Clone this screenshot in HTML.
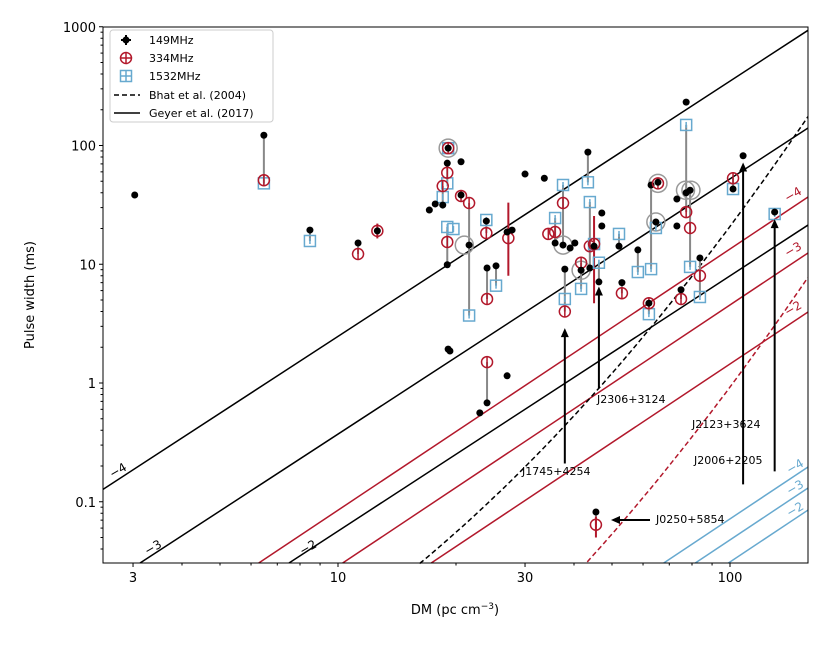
<!DOCTYPE html>
<html><head><meta charset="utf-8"><style>
html,body{margin:0;padding:0;background:#fff;overflow:hidden;width:830px;height:649px;}
svg{display:block;font-family:"DejaVu Sans","Liberation Sans",sans-serif;overflow:hidden;}
</style></head><body>
<svg id="chart" width="830" height="649" viewBox="0 0 830 649" xmlns="http://www.w3.org/2000/svg">
<g id="grid"></g>
<g id="lines"></g>
<g id="conn"></g>
<g id="pts"></g>
<g id="ann"></g>
<rect x="103" y="27" width="705" height="536" fill="none" stroke="#000" stroke-width="1"/>
<g id="axes"></g>
<g>
<rect x="110" y="30" width="163" height="92" rx="3" fill="#fff" fill-opacity="0.85" stroke="#ccc"/>
<g><circle cx="126" cy="40" r="3.5" fill="#000"/><line x1="126" y1="35" x2="126" y2="45" stroke="#000" stroke-width="2"/><line x1="121" y1="40" x2="131" y2="40" stroke="#000" stroke-width="2"/><text x="149" y="44" font-size="11">149MHz</text></g>
<g><circle cx="126" cy="58" r="5.5" fill="none" stroke="#b2182b" stroke-width="1.5"/><line x1="126" y1="52" x2="126" y2="64" stroke="#b2182b" stroke-width="1.5"/><line x1="120" y1="58" x2="132" y2="58" stroke="#b2182b" stroke-width="1.5"/><text x="149" y="62" font-size="11">334MHz</text></g>
<g><rect x="120.5" y="70.5" width="11" height="11" fill="none" stroke="#67a9cf" stroke-width="1.5"/><line x1="126" y1="70" x2="126" y2="82" stroke="#67a9cf" stroke-width="1.5"/><line x1="120" y1="76" x2="132" y2="76" stroke="#67a9cf" stroke-width="1.5"/><text x="149" y="80" font-size="11">1532MHz</text></g>
<g><line x1="114" y1="95" x2="140" y2="95" stroke="#000" stroke-width="1.5" stroke-dasharray="5,3"/><text x="149" y="99" font-size="11">Bhat et al. (2004)</text></g>
<g><line x1="114" y1="113" x2="140" y2="113" stroke="#000" stroke-width="1.5"/><text x="149" y="117" font-size="11">Geyer et al. (2017)</text></g>
</g>
<text x="455" y="614" font-size="13" text-anchor="middle">DM (pc cm<tspan dy="-5" font-size="9">−3</tspan><tspan dy="5">)</tspan></text>
<text transform="translate(34,295) rotate(-90)" font-size="13" text-anchor="middle">Pulse width (ms)</text>
</svg>
<script>
const NS="http://www.w3.org/2000/svg";
// ---- data ----
const pulsarDM=[3.03,6.47,8.48,11.25,12.6,19.1,19.0,18.5,17.1,17.7,19.0,19.1,19.3,19.7,21.6,20.6,20.6,23.9,24.0,25.3,27.2,27.0,27.8,30.0,33.6,37.5,35.8,34.4,39.1,40.2,37.9,41.7,43.4,43.9,45.0,46.3,47.1,47.1,52.1,53.0,58.2,62.9,62.1,65.5,64.7,77.3,77.3,79.1,73.2,73.2,75.0,83.8,101.8,108,130,45.5,24.0,23.0,27.0];
const w149=[38.3,122,19.4,15.1,19.1,95,71,31.5,28.6,32.2,9.9,1.93,1.86,null,14.5,73,38.3,23.1,9.3,9.7,null,18.7,19.4,57.5,53,14.5,15.1,null,13.7,15.1,9.1,8.9,88,9.3,14.2,7.1,27,21,14.2,7.0,13.2,46.5,4.7,49,22.7,40,232,42,35.4,21,6.1,11.3,43,82,27.5,0.082,0.68,0.56,1.15];
const w334=[null,51,null,12.2,19.1,95,59,45.6,null,null,15.4,null,null,null,32.8,null,37.6,18.3,5.1,null,16.6,null,null,null,null,32.8,18.7,18,null,null,4.0,10.3,null,14.2,14.8,null,null,null,null,5.7,null,null,4.7,48,null,27.5,null,20.2,null,null,5.1,8.0,53,null,null,0.064,1.50,null,null];
const w1532=[null,48,15.7,null,null,95,48,36.8,null,null,20.6,null,null,19.8,3.7,null,null,23.6,null,6.6,null,null,null,null,null,46.5,24.5,null,null,null,5.1,6.2,49,33.4,14.8,10.3,null,null,18,null,8.6,9.1,3.8,null,20.2,149,null,9.5,null,null,null,5.3,43,null,26.5,null,null,null,null];
const circleDM=[19.1,21.0,37.5,41.7,65.5,64.7,77.0,79.5];
const circleW=[95,14.5,14.5,8.9,48,22.7,42,42];
const redErrDM=[27.2,45.0,12.6,45.5];
const redErrLo=[8.0,4.7,16.5,0.05];
const redErrHi=[33,25.5,22,0.075];
const geyerFreq=["149","149","149","334","334","334","1532","1532","1532"];
const geyerLabel=["−4","−3","−2","−4","−3","−2","−4","−3","−2"];
const geyerLogW=[2.97,2.147,1.33,1.566,1.095,0.598,-0.707,-0.884,-1.07];
const geyerSlope=[2.15,2.15,2.15,2.2,2.2,2.2,2.2,2.2,2.2];
const bhatFreqGHz=[0.149,0.334];
const arrowNames=["J2306+3124","J1745+4254","J2123+3624","J2006+2205"];
const arrowDM=[46.3,37.9,108,130];
const arrowFrom=[0.9,0.21,0.14,0.18];
const arrowTo=[6.5,2.9,72,24];
// ---- axes ----
const X0=103,X1=808,Y0=27,Y1=563;
const xs=d=>338+(Math.log10(d)-1)*392;
const ys=w=>383-Math.log10(w)*118.75;
const colors={"149":"#000","334":"#b2182b","1532":"#67a9cf"};
function el(tag,attrs,parent){const e=document.createElementNS(NS,tag);for(const k in attrs)e.setAttribute(k,attrs[k]);parent.appendChild(e);return e;}
const lines=document.getElementById('lines'),conn=document.getElementById('conn'),pts=document.getElementById('pts'),ann=document.getElementById('ann'),axes=document.getElementById('axes');
const xMajor=[3,10,30,100];
for(let dec=1;dec<=100;dec*=10){for(let m=1;m<10;m++){const v=m*dec;if(v<2.6||v>158)continue;const x=xs(v);const major=xMajor.includes(v);
const t=el('line',{x1:x,y1:Y1,x2:x,y2:Y1+(major?4:2.5),stroke:'#000','stroke-width':1},axes);

if(major){const tx=el('text',{x:x,y:Y1+19,'font-size':13,'text-anchor':'middle'},axes);tx.textContent=String(v);
}}}
const yLabels=["0.1","1","10","100","1000"];
for(let e=-2;e<=3;e++){for(let m=1;m<10;m++){const v=m*Math.pow(10,e);const y=ys(v);if(y<Y0-0.5||y>Y1)continue;const major=m===1;
const t=el('line',{x1:X0,y1:y,x2:X0-(major?4:2.5),y2:y,stroke:'#000','stroke-width':1},axes);

if(major&&e>=-1){const tx=el('text',{x:X0-7,y:y+5,'font-size':13,'text-anchor':'end'},axes);tx.textContent=yLabels[e+1];
}}}
// geyer lines, clipped to plot area
const lgRef=Math.log10(158),lwBottom=(383-Y1)/118.75,lgX0=(X0-338)/392+1;
geyerLogW.forEach((lw,i)=>{const s=geyerSlope[i];
let lgStart=lgRef-(lw-lwBottom)/s; if(lgStart<lgX0)lgStart=lgX0;
const a=lw-s*(lgRef-lgStart);
const l=el('line',{x1:xs(Math.pow(10,lgStart)),y1:ys(Math.pow(10,a)),x2:X1,y2:ys(Math.pow(10,lw)),stroke:colors[geyerFreq[i]],'stroke-width':1.5},lines);
});
const labPos=[[120,474],[155,551],[310,551],[795,198],[795,253],[795,312],[797,470],[797,491],[797,513]];
labPos.forEach((p,i)=>{const t=el('text',{x:p[0],y:p[1],'font-size':12,fill:colors[geyerFreq[i]],'text-anchor':'middle',transform:`rotate(-30 ${p[0]} ${p[1]})`},ann);t.textContent=geyerLabel[i];
});
// bhat
bhatFreqGHz.forEach((f,i)=>{let d='';let started=false;const lgA=Math.log10(2.5),lgB=Math.log10(158);
for(let k=0;k<=160;k++){const lg=lgA+k*(lgB-lgA)/160;const lt=-6.46+0.154*lg+1.07*lg*lg-3.86*Math.log10(f);const y=ys(Math.pow(10,lt));if(y>Y1+2)continue;
d+=(started?'L':'M')+xs(Math.pow(10,lg)).toFixed(1)+','+Math.max(y,Y0).toFixed(1);started=true;}
const p=el('path',{d:d,fill:'none',stroke:i?'#b2182b':'#000','stroke-width':1.5,'stroke-dasharray':'5,3'},lines);
});
pulsarDM.forEach((dm,i)=>{const ws=[w149[i],w334[i],w1532[i]].filter(v=>v!=null);const x=xs(dm);
if(ws.length>1){const l=el('line',{x1:x,y1:ys(Math.max(...ws)),x2:x,y2:ys(Math.min(...ws)),stroke:'#888','stroke-width':2},conn);
}});
circleDM.forEach((d,i)=>{const c=el('circle',{cx:xs(d),cy:ys(circleW[i]),r:9,fill:'none',stroke:'#999','stroke-width':1.5},conn);
});
redErrDM.forEach((d,i)=>{const l=el('line',{x1:xs(d),y1:ys(redErrHi[i]),x2:xs(d),y2:ys(redErrLo[i]),stroke:'#b2182b','stroke-width':2},conn);
});
pulsarDM.forEach((dm,i)=>{const x=xs(dm);
if(w1532[i]!=null){const y=ys(w1532[i]);const g=el('g',{},pts);

el('rect',{x:x-5.5,y:y-5.5,width:11,height:11,fill:'none',stroke:'#67a9cf','stroke-width':1.5},g);el('line',{x1:x,y1:y-3,x2:x,y2:y+3,stroke:'#67a9cf','stroke-width':1.5},g);}
if(w334[i]!=null){const y=ys(w334[i]);const g=el('g',{},pts);

el('circle',{cx:x,cy:y,r:5.5,fill:'none',stroke:'#b2182b','stroke-width':1.5},g);el('line',{x1:x,y1:y-5,x2:x,y2:y+5,stroke:'#b2182b','stroke-width':1.5},g);}
if(w149[i]!=null){const c=el('circle',{cx:x,cy:ys(w149[i]),r:3.5,fill:'#000'},pts);
}});
const labXY=[[597,403],[522,475],[692,428],[694,464]];
arrowNames.forEach((n,i)=>{const x=xs(arrowDM[i]),ya=ys(arrowFrom[i]),yb=ys(arrowTo[i]);
const g=el('g',{},ann);
el('line',{x1:x,y1:ya,x2:x,y2:yb+6,stroke:'#000','stroke-width':2},g);
el('polygon',{points:`${x},${yb} ${x-4},${yb+9} ${x+4},${yb+9}`,fill:'#000'},g);
const t=el('text',{x:labXY[i][0],y:labXY[i][1],'font-size':11,'text-rendering':'auto'},g);t.textContent=n;});
{const g=el('g',{},ann);
el('line',{x1:650,y1:520,x2:617,y2:520,stroke:'#000','stroke-width':2},g);el('polygon',{points:'611,520 620,516 620,524',fill:'#000'},g);
const t=el('text',{x:656,y:523,'font-size':11},g);t.textContent='J0250+5854';}
</script>
</body></html>
